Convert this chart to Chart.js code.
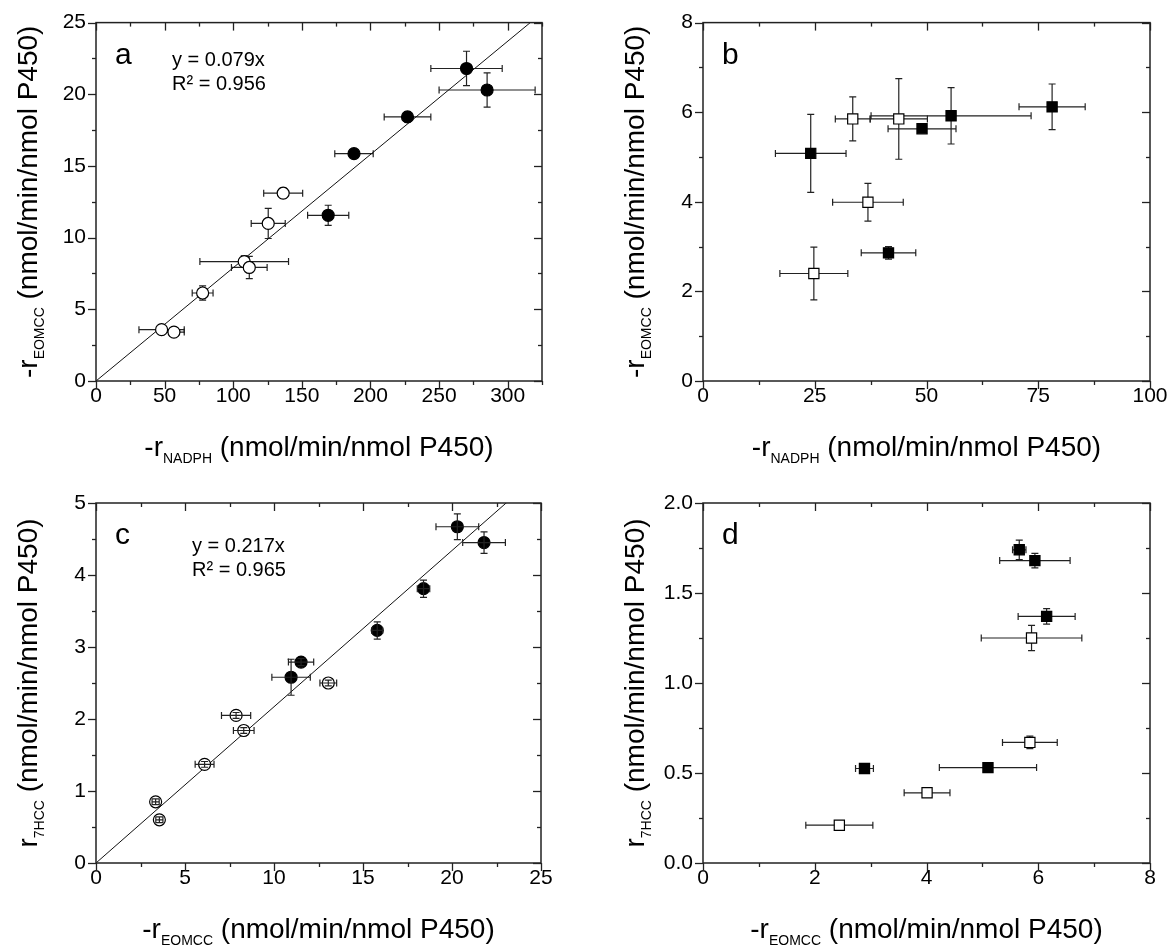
<!DOCTYPE html>
<html>
<head>
<meta charset="utf-8">
<title>Rates</title>
<script src="https://cdn.jsdelivr.net/npm/chart.js@4.4.1/dist/chart.umd.min.js"></script>
<style>
  body { margin: 0; background: #fff; }
  #wrap { position: relative; width: 1174px; height: 947px; overflow: hidden; }
  canvas { position: absolute; }
</style>
</head>
<body>
<div id="wrap">
  <canvas id="chartA" width="587" height="473" style="left:0;top:0"></canvas>
  <canvas id="chartB" width="587" height="473" style="left:587px;top:0"></canvas>
  <canvas id="chartC" width="587" height="474" style="left:0;top:473px"></canvas>
  <canvas id="chartD" width="587" height="474" style="left:587px;top:473px"></canvas>
</div>
<script>
// Panel a: -rEOMCC vs -rNADPH
const aOpenX = [47.8, 56.8, 77.7, 108.0, 111.7, 125.5, 136.4];
const aOpenY = [3.58, 3.41, 6.14, 8.33, 7.92, 10.99, 13.10];
const aOpenXErr = [16.5, 7.5, 7.6, 32.3, 13.0, 12.4, 14.2];
const aOpenYErr = [0.2, 0.15, 0.5, 0.4, 0.78, 1.05, 0.35];
const aFillX = [169.2, 188.0, 227.0, 270.0, 285.0];
const aFillY = [11.56, 15.86, 18.42, 21.80, 20.30];
const aFillXErr = [15.0, 14.0, 17.0, 26.0, 35.0];
const aFillYErr = [0.7, 0.3, 0.35, 1.2, 1.2];
const aSlope = 0.079;
const aEquation = ['y = 0.079x', 'R\u00b2 = 0.956'];

// Panel b: -rEOMCC vs -rNADPH (squares)
const bOpenX = [33.5, 43.8, 36.9, 24.8];
const bOpenY = [5.85, 5.85, 3.99, 2.40];
const bOpenXErr = [3.9, 6.4, 7.9, 7.6];
const bOpenYErr = [0.49, 0.9, 0.42, 0.59];
const bFillX = [24.1, 49.0, 55.5, 78.1, 41.5];
const bFillY = [5.08, 5.63, 5.92, 6.12, 2.86];
const bFillXErr = [7.9, 7.6, 17.9, 7.4, 6.1];
const bFillYErr = [0.87, 0.08, 0.63, 0.51, 0.14];

// Panel c: r7HCC vs -rEOMCC
const cOpenX = [3.35, 3.56, 6.10, 7.87, 8.30, 13.05];
const cOpenY = [0.85, 0.60, 1.37, 2.05, 1.84, 2.50];
const cOpenXErr = [0.2, 0.2, 0.53, 0.82, 0.58, 0.47];
const cOpenYErr = [0.04, 0.04, 0.04, 0.04, 0.04, 0.04];
const cFillX = [10.96, 11.52, 15.8, 18.4, 20.3, 21.8];
const cFillY = [2.58, 2.79, 3.23, 3.81, 4.67, 4.45];
const cFillXErr = [1.08, 0.71, 0.3, 0.35, 1.2, 1.2];
const cFillYErr = [0.25, 0.05, 0.12, 0.12, 0.18, 0.15];
const cSlope = 0.217;
const cEquation = ['y = 0.217x', 'R\u00b2 = 0.965'];

// Panel d: r7HCC vs -rEOMCC (squares)
const dOpenX = [5.88, 5.85, 4.01, 2.44];
const dOpenY = [1.25, 0.67, 0.39, 0.21];
const dOpenXErr = [0.90, 0.49, 0.41, 0.60];
const dOpenYErr = [0.07, 0.035, 0.02, 0.02];
const dFillX = [5.66, 5.94, 6.15, 2.89, 5.10];
const dFillY = [1.74, 1.68, 1.37, 0.525, 0.53];
const dFillXErr = [0.12, 0.63, 0.51, 0.16, 0.87];
const dFillYErr = [0.054, 0.04, 0.043, 0.02, 0.02];

// axis titles: [main, subscript, rest]
const titleNadph = ['-r', 'NADPH', ' (nmol/min/nmol P450)'];
const titleEomcc = ['-r', 'EOMCC', ' (nmol/min/nmol P450)'];
const title7hcc = ['r', '7HCC', ' (nmol/min/nmol P450)'];

const FONT = "'Liberation Sans', Arial, Helvetica, sans-serif";

function pts(xs, ys) {
    return xs.map((x, i) => ({ x: x, y: ys[i] }));
}

function drawErrorBars(chart) {
    const ctx = chart.ctx, xs = chart.scales.x, ys = chart.scales.y, area = chart.chartArea;
    const cap = 3.5;
    ctx.save();
    ctx.beginPath();
    ctx.rect(area.left, area.top, area.right - area.left, area.bottom - area.top);
    ctx.clip();
    ctx.strokeStyle = '#222';
    ctx.lineWidth = 1.2;
    chart.data.datasets.forEach(ds => {
        if (!ds.xErr) return;
        ds.data.forEach((p, i) => {
            const px = xs.getPixelForValue(p.x), py = ys.getPixelForValue(p.y);
            const ex = ds.xErr[i], ey = ds.yErr[i];
            ctx.beginPath();
            if (ex) {
                const l = xs.getPixelForValue(p.x - ex), r = xs.getPixelForValue(p.x + ex);
                ctx.moveTo(l, py); ctx.lineTo(r, py);
                ctx.moveTo(l, py - cap); ctx.lineTo(l, py + cap);
                ctx.moveTo(r, py - cap); ctx.lineTo(r, py + cap);
            }
            if (ey) {
                const t = ys.getPixelForValue(p.y + ey), b = ys.getPixelForValue(p.y - ey);
                ctx.moveTo(px, t); ctx.lineTo(px, b);
                ctx.moveTo(px - cap, t); ctx.lineTo(px + cap, t);
                ctx.moveTo(px - cap, b); ctx.lineTo(px + cap, b);
            }
            ctx.stroke();
        });
    });
    ctx.restore();
}

function drawTitle(ctx, parts, cx, cy, vertical) {
    const fonts = ['28px ' + FONT, '14px ' + FONT, '28px ' + FONT];
    const offs = [0, 7, 0];
    ctx.save();
    ctx.translate(cx, cy);
    if (vertical) ctx.rotate(-Math.PI / 2);
    ctx.fillStyle = '#000';
    ctx.textAlign = 'left';
    ctx.textBaseline = 'alphabetic';
    const widths = parts.map((t, i) => { ctx.font = fonts[i]; return ctx.measureText(t).width; });
    let x = -widths.reduce((a, b) => a + b, 0) / 2;
    parts.forEach((t, i) => {
        ctx.font = fonts[i];
        ctx.fillText(t, x, offs[i]);
        x += widths[i];
    });
    ctx.restore();
}

function drawTicks(ctx, scale, area, side, major, minor) {
    const eps = 1e-6;
    for (let v = scale.min; v <= scale.max + eps; v += minor) {
        const isMajor = Math.abs(v / major - Math.round(v / major)) < 1e-4;
        const len = isMajor ? 8 : 4;
        const p = Math.round(scale.getPixelForValue(v)) + 0.5;
        ctx.beginPath();
        if (side === 'bottom') { ctx.moveTo(p, area.bottom); ctx.lineTo(p, area.bottom + len); }
        if (side === 'top') { ctx.moveTo(p, area.top); ctx.lineTo(p, area.top + len); }
        if (side === 'left') { ctx.moveTo(area.left - len, p); ctx.lineTo(area.left, p); }
        if (side === 'right') { ctx.moveTo(area.right - len, p); ctx.lineTo(area.right, p); }
        ctx.stroke();
    }
}

const decorPlugin = {
    id: 'decor',
    beforeDatasetsDraw(chart, args, opts) {
        if (!opts.barsOnTop) drawErrorBars(chart);
    },
    afterDatasetsDraw(chart, args, opts) {
        if (opts.barsOnTop) drawErrorBars(chart);
    },
    afterDraw(chart, args, opts) {
        const ctx = chart.ctx, area = chart.chartArea;
        const xs = chart.scales.x, ys = chart.scales.y;
        ctx.save();
        ctx.strokeStyle = '#222';
        ctx.lineWidth = 1.5;
        ctx.strokeRect(area.left, area.top, area.right - area.left, area.bottom - area.top);
        ctx.lineWidth = 1.3;
        drawTicks(ctx, xs, area, 'bottom', opts.xMajor, opts.xMinor);
        drawTicks(ctx, xs, area, 'top', opts.xMajor, opts.xMinor);
        drawTicks(ctx, ys, area, 'left', opts.yMajor, opts.yMinor);
        drawTicks(ctx, ys, area, 'right', opts.yMajor, opts.yMinor);

        ctx.fillStyle = '#000';
        ctx.textAlign = 'left';
        ctx.textBaseline = 'alphabetic';
        ctx.font = '30px ' + FONT;
        ctx.fillText(opts.letter, area.left + 19, area.top + 41);
        if (opts.equation) {
            ctx.font = '20px ' + FONT;
            ctx.fillText(opts.equation[0], area.left + opts.eqX, area.top + opts.eqY);
            ctx.fillText(opts.equation[1], area.left + opts.eqX, area.top + opts.eqY + 24);
        }
        ctx.restore();

        drawTitle(ctx, opts.xTitle, (area.left + area.right) / 2, area.bottom + 75, false);
        drawTitle(ctx, opts.yTitle, area.left - 59, (area.top + area.bottom) / 2, true);
    }
};

function makeChart(id, p) {
    const marker = p.square ? 'rect' : 'circle';
    const radius = p.square ? 7.2 : 6;
    const datasets = [
        {
            data: pts(p.fillX, p.fillY), xErr: p.fillXErr, yErr: p.fillYErr,
            pointStyle: marker, pointRadius: radius, pointBackgroundColor: '#000',
            pointBorderColor: '#000', pointBorderWidth: 1.2, showLine: false
        },
        {
            data: pts(p.openX, p.openY), xErr: p.openXErr, yErr: p.openYErr,
            pointStyle: marker, pointRadius: radius, pointBackgroundColor: '#fff',
            pointBorderColor: '#000', pointBorderWidth: 1.2, showLine: false
        }
    ];
    if (p.slope) {
        // fitted line y = slope * x across the axis range
        datasets.push({
            type: 'line',
            data: [{ x: p.xMin, y: p.slope * p.xMin }, { x: p.xMax, y: p.slope * p.xMax }],
            borderColor: '#111', borderWidth: 1, pointRadius: 0, fill: false, clip: 0
        });
    }
    const tickFont = { family: FONT, size: 21 };
    return new Chart(document.getElementById(id), {
        type: 'scatter',
        data: { datasets: datasets },
        options: {
            responsive: false,
            animation: false,
            layout: { padding: { top: p.padTop, right: p.padRight, left: 0, bottom: 0 } },
            plugins: {
                legend: { display: false },
                tooltip: { enabled: false },
                decor: {
                    xMajor: p.xStep, xMinor: p.xStep / 2, yMajor: p.yStep, yMinor: p.yStep / 2,
                    letter: p.letter, equation: p.equation, eqX: p.eqX, eqY: p.eqY,
                    xTitle: p.xTitle, yTitle: p.yTitle, barsOnTop: p.barsOnTop
                }
            },
            scales: {
                x: {
                    type: 'linear', min: p.xMin, max: p.xMax,
                    grid: { display: false, drawTicks: false },
                    border: { display: false },
                    ticks: { stepSize: p.xStep, includeBounds: false, padding: 3, color: '#000', font: tickFont, maxRotation: 0 },
                    afterFit: s => { s.height = p.xAxisH; }
                },
                y: {
                    type: 'linear', min: p.yMin, max: p.yMax,
                    grid: { display: false, drawTicks: false },
                    border: { display: false },
                    ticks: {
                        stepSize: p.yStep, includeBounds: false, padding: 10, color: '#000', font: tickFont,
                        callback: v => p.yDigits ? v.toFixed(p.yDigits) : String(v)
                    },
                    afterFit: s => { s.width = p.yAxisW; }
                }
            }
        },
        plugins: [decorPlugin]
    });
}

makeChart('chartA', {
    openX: aOpenX, openY: aOpenY, openXErr: aOpenXErr, openYErr: aOpenYErr,
    fillX: aFillX, fillY: aFillY, fillXErr: aFillXErr, fillYErr: aFillYErr,
    slope: aSlope, equation: aEquation, eqX: 76, eqY: 43, letter: 'a',
    xMin: 0, xMax: 325, xStep: 50, yMin: 0, yMax: 25, yStep: 5,
    xTitle: titleNadph, yTitle: titleEomcc,
    padTop: 20, padRight: 45, yAxisW: 96, xAxisH: 92
});

makeChart('chartB', {
    openX: bOpenX, openY: bOpenY, openXErr: bOpenXErr, openYErr: bOpenYErr,
    fillX: bFillX, fillY: bFillY, fillXErr: bFillXErr, fillYErr: bFillYErr,
    square: true, letter: 'b',
    xMin: 0, xMax: 100, xStep: 25, yMin: 0, yMax: 8, yStep: 2,
    xTitle: titleNadph, yTitle: titleEomcc,
    padTop: 20, padRight: 24, yAxisW: 116, xAxisH: 92
});

makeChart('chartC', {
    openX: cOpenX, openY: cOpenY, openXErr: cOpenXErr, openYErr: cOpenYErr,
    fillX: cFillX, fillY: cFillY, fillXErr: cFillXErr, fillYErr: cFillYErr,
    slope: cSlope, equation: cEquation, eqX: 96, eqY: 49, letter: 'c', barsOnTop: true,
    xMin: 0, xMax: 25, xStep: 5, yMin: 0, yMax: 5, yStep: 1,
    xTitle: titleEomcc, yTitle: title7hcc,
    padTop: 30, padRight: 46, yAxisW: 96, xAxisH: 84
});

makeChart('chartD', {
    openX: dOpenX, openY: dOpenY, openXErr: dOpenXErr, openYErr: dOpenYErr,
    fillX: dFillX, fillY: dFillY, fillXErr: dFillXErr, fillYErr: dFillYErr,
    square: true, letter: 'd', yDigits: 1,
    xMin: 0, xMax: 8, xStep: 2, yMin: 0, yMax: 2, yStep: 0.5,
    xTitle: titleEomcc, yTitle: title7hcc,
    padTop: 30, padRight: 24, yAxisW: 116, xAxisH: 84
});
</script>
</body>
</html>
